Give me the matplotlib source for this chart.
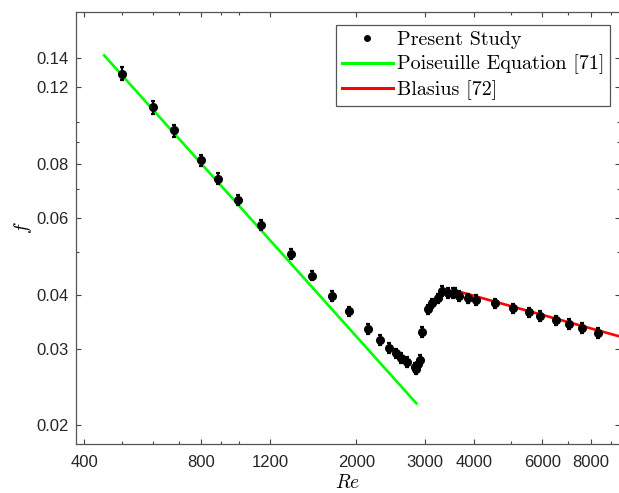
import numpy as np
import matplotlib
matplotlib.use("Agg")
import matplotlib.pyplot as plt
from matplotlib.lines import Line2D
from matplotlib.ticker import FixedLocator, FixedFormatter, NullFormatter

plt.rcParams['mathtext.fontset'] = 'cm'
plt.rcParams['font.family'] = ['Liberation Sans', 'DejaVu Sans']

# measured points (Present Study)
re_data = [500, 600, 680, 800, 880, 990, 1140, 1360, 1540, 1730, 1910, 2140, 2300, 2430,
           2520, 2610, 2690, 2820, 2850, 2880, 2910, 2950, 3050, 3130, 3230, 3310, 3440,
           3530, 3580, 3670, 3870, 4050, 4540, 5040, 5550, 5930, 6520, 7020, 7600, 8330]
f_data = [0.129, 0.108, 0.0955, 0.0815, 0.074, 0.066, 0.0578, 0.0496, 0.0442, 0.0397,
          0.0366, 0.0333, 0.0314, 0.0301, 0.0293, 0.0286, 0.0280, 0.0272, 0.0269, 0.0276,
          0.0283, 0.0328, 0.0370, 0.0382, 0.0392, 0.0408, 0.0403, 0.0403, 0.0404, 0.0397,
          0.0392, 0.0389, 0.0382, 0.0372, 0.0364, 0.0357, 0.0349, 0.0342, 0.0335, 0.0326]
# relative uncertainty in percent
f_err_pct = [3.5, 3.4, 3.2, 3.0, 2.9, 2.8, 2.6, 2.5, 2.5, 2.5, 2.5, 2.5, 2.5, 2.5,
             2.5, 2.5, 2.5, 2.5, 2.5, 2.5, 2.5, 2.5, 2.5, 2.5, 2.5, 2.5, 2.5,
             2.5, 2.5, 2.5, 2.5, 2.5, 2.5, 2.5, 2.5, 2.5, 2.5, 2.5, 2.5, 2.5]

# correlation ranges
re_lam = [450, 2850]
re_turb = [3600, 9600]

x_major = [400, 800, 1200, 2000, 3000, 4000, 6000, 8000]
x_minor = [500, 600, 700, 900, 1000, 5000, 7000, 9000]
y_major = [0.02, 0.03, 0.04, 0.06, 0.08, 0.12, 0.14]
y_minor = [0.05, 0.07, 0.09, 0.1]

re_data = np.array(re_data)
f_data = np.array(f_data)
yerr = f_data * np.array(f_err_pct) / 100

fig = plt.figure(figsize=(6.19, 4.93), dpi=100)
ax = fig.add_axes([76 / 619, 49 / 493, 544 / 619, 432 / 493])

re_l = np.geomspace(re_lam[0], re_lam[1], 50)
re_t = np.geomspace(re_turb[0], re_turb[1], 50)
ax.plot(re_l, 64 / re_l, color='#00ff00', lw=1.9, zorder=2)
ax.plot(re_t, 0.316 * re_t ** -0.25, color='#ff0000', lw=1.9, zorder=2)
ax.errorbar(re_data, f_data, yerr=yerr, fmt='o', color='k', ms=5.5,
            elinewidth=1.6, capsize=1.6, capthick=1.6, zorder=3)

ax.set_xscale('log')
ax.set_yscale('log')
ax.set_xlim(381, 9500)
ax.set_ylim(0.0181, 0.179)

ax.xaxis.set_major_locator(FixedLocator(x_major))
ax.xaxis.set_major_formatter(FixedFormatter([str(v) for v in x_major]))
ax.xaxis.set_minor_locator(FixedLocator(x_minor))
ax.xaxis.set_minor_formatter(NullFormatter())
ax.yaxis.set_major_locator(FixedLocator(y_major))
ax.yaxis.set_major_formatter(FixedFormatter([str(v) for v in y_major]))
ax.yaxis.set_minor_locator(FixedLocator(y_minor))
ax.yaxis.set_minor_formatter(NullFormatter())

ax.tick_params(which='both', direction='in', top=True, right=True,
               color='#444444', labelsize=12, labelcolor='#262626')
ax.tick_params(which='major', length=3.6, width=0.8)
ax.tick_params(which='minor', length=2.0, width=0.8)
ax.tick_params(axis='x', which='major', pad=8)
ax.tick_params(axis='y', which='major', pad=5)
for s in ax.spines.values():
    s.set_color('#555555')
    s.set_linewidth(0.9)

ax.set_xlabel(r'$Re$', fontsize=14, labelpad=3)
ax.set_ylabel(r'$f$', fontsize=14, labelpad=2)

handles = [Line2D([], [], ls='none', marker='o', color='k', ms=4),
           Line2D([], [], color='#00ff00', lw=2.2),
           Line2D([], [], color='#ff0000', lw=2.2)]
labels = ['Present Study', 'Poiseuille Equation [71]', 'Blasius [72]']
leg = ax.legend(handles, labels, loc='upper right', bbox_to_anchor=(0.982, 0.971),
                prop={'family': 'cmr10', 'size': 14.5}, frameon=True, fancybox=False,
                edgecolor='#555555', framealpha=1, handlelength=2.5,
                labelspacing=0.3, borderpad=0.3, handletextpad=0.2, borderaxespad=0)
leg.get_frame().set_linewidth(0.9)

fig.savefig('out.png', dpi=100)
